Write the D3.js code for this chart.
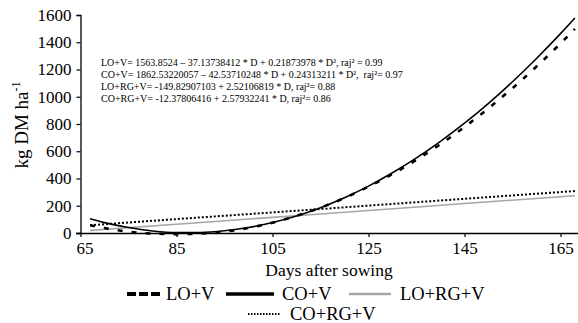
<!DOCTYPE html>
<html><head><meta charset="utf-8">
<script src="https://cdn.jsdelivr.net/npm/d3@7"></script>
<style>body{margin:0;background:#fff}svg{display:block}svg text{font-family:"Liberation Serif","DejaVu Serif",serif !important;fill:#000}.eq{white-space:pre}</style>
</head><body><svg id="c" width="578" height="323"></svg>
<script>
const days = [67,70,75,80,85,90,95,100,105,110,115,120,125,130,135,140,145,150,155,160,165,168];
const loV  = [57,36,9,-4,-8,-4,10,37,76,126,186,257,340,433,537,652,778,915,1063,1222,1391,1498];
const coV  = [104,76,40,15,3,4,16,40,77,125,186,259,344,442,551,673,806,952,1110,1281,1463,1578];
const linDays = [67,85,105,125,145,168];
const loRgV = [19,64,115,165,216,274];
const coRgV = [57,102,151,201,251,308];
const xTicks = [65,85,105,125,145,165];
const yTicks = [0,200,400,600,800,1000,1200,1400,1600];
const equations = [
  "LO+V= 1563.8524 \u2013 37.13738412 * D + 0.21873978 * D\u00b2, raj\u00b2 = 0.99",
  "CO+V= 1862.53220057 \u2013 42.53710248 * D + 0.24313211 * D\u00b2,  raj\u00b2= 0.97",
  "LO+RG+V= -149.82907103 + 2.52106819 * D, raj\u00b2= 0.88",
  "CO+RG+V= -12.37806416 + 2.57932241 * D, raj\u00b2= 0.86"
];
const seriesNames = ["LO+V","CO+V","LO+RG+V","CO+RG+V"];

const svg = d3.select("#c");
const x = d3.scaleLinear().domain([65, 65 + 497.5/4.8]).range([80.5, 578]);
const y = d3.scaleLinear().domain([0,1600]).range([233, 15]);

// axes
const xa = svg.append("g").attr("transform","translate(0,233)")
  .call(d3.axisBottom(x).tickValues(xTicks).tickSize(4).tickPadding(5).tickFormat(d3.format("d")));
const ya = svg.append("g").attr("transform","translate(80.5,0)")
  .call(d3.axisLeft(y).tickValues(yTicks).tickSize(4).tickPadding(5).tickFormat(d3.format("d")));
[xa,ya].forEach(g=>{
  g.attr("font-family",null);
  g.select(".domain").attr("stroke","#000").attr("stroke-width",1.3);
  g.selectAll(".tick line").attr("stroke","#000").attr("stroke-width",1.2);
  g.selectAll(".tick text").attr("font-size",17);
});
xa.select(".domain").attr("d","M76,0.5H578");
xa.selectAll(".tick").filter(d=>d===65).select("text").attr("x",4);

const line = d3.line().x(d=>x(d[0])).y(d=>y(d[1])).curve(d3.curveMonotoneX);
const zip = (a,b)=>a.map((v,i)=>[v,b[i]]);

const plot = svg.append("g");
plot.append("path").datum(zip(linDays,loRgV)).attr("d",line)
  .attr("fill","none").attr("stroke","#a6a6a6").attr("stroke-width",1.6);
plot.append("path").datum(zip(linDays,coRgV)).attr("d",line)
  .attr("fill","none").attr("stroke","#000").attr("stroke-width",2).attr("stroke-dasharray","2,2");
plot.append("path").datum(zip(days,coV)).attr("d",line)
  .attr("fill","none").attr("stroke","#000").attr("stroke-width",1.6);
plot.append("path").datum(zip(days,loV)).attr("d",line)
  .attr("fill","none").attr("stroke","#000").attr("stroke-width",2.6).attr("stroke-dasharray","5,9");

// equations
svg.append("g").selectAll("text").data(equations).join("text").attr("class","eq")
  .attr("x",101).attr("y",(d,i)=>65.5+i*12).attr("font-size",10).text(d=>d);

// axis titles
svg.append("text").attr("x",329).attr("y",276).attr("text-anchor","middle").attr("font-size",17.5).text("Days after sowing");
const yl = svg.append("text").attr("transform","translate(28,125) rotate(-90)").attr("text-anchor","middle").attr("font-size",19);
yl.append("tspan").text("kg DM ha");
yl.append("tspan").attr("font-size",12).attr("dy",-8).text("-1");

// legend
const leg = svg.append("g");
const items = [
  {name:seriesNames[0], x1:127,x2:160, ty:294, tx:166, stroke:"#000", w:4, dash:"9,3"},
  {name:seriesNames[1], x1:226,x2:274, ty:294, tx:282, stroke:"#000", w:3.5, dash:null},
  {name:seriesNames[2], x1:349,x2:391, ty:294, tx:400, stroke:"#a6a6a6", w:2.5, dash:null},
  {name:seriesNames[3], x1:248,x2:280, ty:314, tx:290, stroke:"#000", w:2, dash:"1.5,1.5"}
];
items.forEach(it=>{
  leg.append("line").attr("x1",it.x1).attr("x2",it.x2).attr("y1",it.ty).attr("y2",it.ty)
    .attr("stroke",it.stroke).attr("stroke-width",it.w).attr("stroke-dasharray",it.dash);
  leg.append("text").attr("x",it.tx).attr("y",it.ty+6).attr("font-size",18.5).text(it.name);
});
</script></body></html>
